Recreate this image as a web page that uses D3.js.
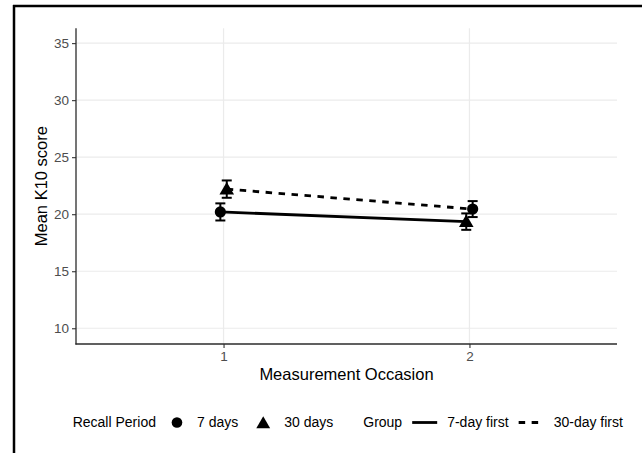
<!DOCTYPE html>
<html>
<head>
<meta charset="utf-8">
<script src="https://cdn.jsdelivr.net/npm/d3@7"></script>
<style>
  body { margin: 0; background: #fff; }
  text { font-family: "Liberation Sans", Arial, sans-serif; }
</style>
</head>
<body>
<div class="canvas"></div>
<script>
// data
const occasions = [1, 2];
const yTicks = [10, 15, 20, 25, 30, 35];
const groups = ['7-day first', '30-day first'];
const recall = ['7 days', '30 days'];

// 7-day first: 7 days at occasion 1, 30 days at occasion 2
const sevenFirstMean = [20.2, 19.35];
const sevenFirstErr = [0.75, 0.72];
const sevenFirstRecall = ['7 days', '30 days'];
// 30-day first: 30 days at occasion 1, 7 days at occasion 2
const thirtyFirstMean = [22.2, 20.45];
const thirtyFirstErr = [0.76, 0.7];
const thirtyFirstRecall = ['30 days', '7 days'];

const dodge = [-0.013, 0.013];

const series = [
  { group: groups[0], mean: sevenFirstMean, err: sevenFirstErr, recall: sevenFirstRecall, dodge: dodge[0] },
  { group: groups[1], mean: thirtyFirstMean, err: thirtyFirstErr, recall: thirtyFirstRecall, dodge: dodge[1] }
];

const W = 642, H = 453;
const svg = d3.select('.canvas')
  .append('svg')
  .attr('width', W)
  .attr('height', H);

// frame lines (top and left only)
svg.append('line').attr('x1', 13).attr('x2', W).attr('y1', 6).attr('y2', 6)
  .attr('stroke', '#000').attr('stroke-width', 2.5);
svg.append('line').attr('x1', 14).attr('x2', 14).attr('y1', 5).attr('y2', H)
  .attr('stroke', '#000').attr('stroke-width', 2.5);

const pLeft = 76, pRight = 617, pTop = 28.3, pBottom = 344;

const x = d3.scaleLinear().domain([0.4, 2.6]).range([pLeft, pRight]);
const y = d3.scaleLinear().domain([8.62, 36.3]).range([pBottom, pTop]);

// grid
const grid = svg.append('g');
grid.selectAll('.hg').data(yTicks).enter().append('line')
  .attr('x1', pLeft).attr('x2', pRight)
  .attr('y1', d => y(d)).attr('y2', d => y(d))
  .attr('stroke', '#ebebeb').attr('stroke-width', 1.2);
grid.selectAll('.vg').data(occasions).enter().append('line')
  .attr('x1', d => x(d)).attr('x2', d => x(d))
  .attr('y1', pTop).attr('y2', pBottom)
  .attr('stroke', '#ebebeb').attr('stroke-width', 1.2);

// axes
const yAxis = svg.append('g')
  .attr('transform', `translate(${pLeft},0)`)
  .call(d3.axisLeft(y).tickValues(yTicks).tickSize(4).tickPadding(3));
const xAxis = svg.append('g')
  .attr('transform', `translate(0,${pBottom})`)
  .call(d3.axisBottom(x).tickValues(occasions).tickFormat(d3.format('d')).tickSize(4).tickPadding(3));

[yAxis, xAxis].forEach(a => {
  a.select('.domain').remove();
  a.selectAll('.tick line').attr('stroke', '#333').attr('stroke-width', 1.1);
  a.selectAll('.tick text').attr('fill', '#4d4d4d')
    .style('font-size', '13.5px').style('font-family', '"Liberation Sans", Arial, sans-serif');
});

svg.append('line').attr('x1', pLeft).attr('x2', pLeft).attr('y1', pTop).attr('y2', pBottom + 0.6)
  .attr('stroke', '#2b2b2b').attr('stroke-width', 1.3);
svg.append('line').attr('x1', pLeft - 0.6).attr('x2', pRight).attr('y1', pBottom).attr('y2', pBottom)
  .attr('stroke', '#2b2b2b').attr('stroke-width', 1.3);

// axis titles
svg.append('text')
  .attr('x', (pLeft + pRight) / 2).attr('y', 380)
  .attr('text-anchor', 'middle')
  .style('font-size', '16.5px')
  .text('Measurement Occasion');
svg.append('text')
  .attr('transform', `translate(47,${(pTop + pBottom) / 2}) rotate(-90)`)
  .attr('text-anchor', 'middle')
  .style('font-size', '16.5px')
  .text('Mean K10 score');

// shapes
const trianglePath = (s) => `M0,${-7 * s}L${7.3 * s},${5.5 * s}L${-7.3 * s},${5.5 * s}Z`;
function drawShape(g, kind, cx, cy, s) {
  if (kind === '7 days') {
    g.append('circle').attr('cx', cx).attr('cy', cy).attr('r', 5.6 * s).attr('fill', '#000');
  } else {
    g.append('path').attr('d', trianglePath(s))
      .attr('transform', `translate(${cx},${cy})`).attr('fill', '#000');
  }
}

const dash = { '7-day first': null, '30-day first': '6.5,6.5' };

const plot = svg.append('g');
const line = d3.line().x(d => x(d.occ + d.dodge)).y(d => y(d.mean));

series.forEach(s => {
  const pts = occasions.map((o, i) => ({ occ: o, dodge: s.dodge, mean: s.mean[i] }));
  plot.append('path')
    .datum(pts)
    .attr('d', line)
    .attr('fill', 'none')
    .attr('stroke', '#000')
    .attr('stroke-width', 2.8)
    .attr('stroke-dasharray', dash[s.group]);
});

// error bars
series.forEach(s => {
  occasions.forEach((o, i) => {
    const cx = x(o + s.dodge);
    const lo = y(s.mean[i] - s.err[i]), hi = y(s.mean[i] + s.err[i]);
    const eb = plot.append('g').attr('stroke', '#000').attr('stroke-width', 2);
    eb.append('line').attr('x1', cx).attr('x2', cx).attr('y1', lo).attr('y2', hi);
    eb.append('line').attr('x1', cx - 5).attr('x2', cx + 5).attr('y1', lo).attr('y2', lo);
    eb.append('line').attr('x1', cx - 5).attr('x2', cx + 5).attr('y1', hi).attr('y2', hi);
  });
});

// points
series.forEach(s => {
  occasions.forEach((o, i) => {
    drawShape(plot, s.recall[i], x(o + s.dodge), y(s.mean[i]), 1);
  });
});

// legend
const legY = 422.5;
const leg = svg.append('g').style('font-size', '14px');
function legText(xp, t) {
  const el = leg.append('text').attr('x', xp).attr('y', legY).attr('dy', '0.35em').text(t);
  return xp + el.node().getComputedTextLength();
}
let cur = legText(72.7, 'Recall Period');
let c = cur + 21;
drawShape(leg, recall[0], c, legY, 0.95);
cur = legText(c + 20, recall[0]);
c = cur + 25;
drawShape(leg, recall[1], c, legY + 0.5, 0.95);
cur = legText(c + 21, recall[1]);

cur = legText(cur + 30, 'Group');
groups.forEach(g => {
  const k0 = cur + 10;
  leg.append('line')
    .attr('x1', k0).attr('x2', k0 + 25).attr('y1', legY).attr('y2', legY)
    .attr('stroke', '#000').attr('stroke-width', 2.8)
    .attr('stroke-dasharray', dash[g]);
  cur = legText(k0 + 35, g);
});
</script>
</body>
</html>
